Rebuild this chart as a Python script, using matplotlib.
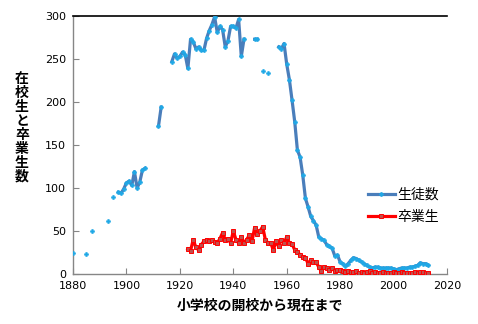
import numpy as np
import matplotlib
matplotlib.use("Agg")
import matplotlib.pyplot as plt

plt.rcParams['font.family'] = ['Noto Sans CJK JP', 'DejaVu Sans']

nan = np.nan
# 生徒数 (students) – NaN marks gaps in the record
student_years = [1880, 1881, 1885, 1886, 1887, 1888, 1893, 1894, 1895, 1896,
                 1897, 1898, 1899, 1900, 1901, 1902, 1903, 1904, 1905, 1906, 1907, 1908,
                 1912, 1913, 1914,
                 1917, 1918, 1919, 1920, 1921, 1922, 1923, 1924, 1925, 1926, 1927, 1928,
                 1929, 1930, 1931, 1932, 1933, 1934, 1935, 1936, 1937, 1938, 1939, 1940,
                 1941, 1942, 1943, 1944, 1945, 1946,
                 1948, 1949, 1950, 1951, 1952, 1953, 1954, 1955,
                 1957, 1958, 1959, 1960, 1961, 1962, 1963, 1964, 1965, 1966, 1967, 1968,
                 1969, 1970, 1971, 1972, 1973, 1974, 1975, 1976, 1977, 1978, 1979, 1980,
                 1981, 1982, 1983, 1984, 1985, 1986, 1987, 1988, 1989, 1990, 1991, 1992,
                 1993, 1994, 1995, 1996, 1997, 1998, 1999, 2000, 2001, 2002, 2003, 2004,
                 2005, 2006, 2007, 2008, 2009, 2010, 2011, 2012, 2013]
student_values = [24, nan, 23, nan, 50, nan, 62, nan, 89, nan,
                  95, 94, 99, 106, 108, 103, 119, 100, 107, 121, 123, nan,
                  172, 194, nan,
                  247, 256, 251, 253, 258, 255, 239, 273, 270, 262, 264, 260,
                  260, 274, 283, 290, 299, 281, 288, 284, 264, 271, 288, 288,
                  286, 296, 253, 273, nan, nan,
                  273, 273, nan, 236, nan, 234, nan, nan,
                  264, 262, 268, 244, 226, 202, 177, 144, 136, 115, 88, 78,
                  67, 62, 57, 43, 41, 39, 34, 32, 30, 21, 22, 14,
                  12, 9, 12, 16, 19, 18, 16, 14, 12, 10, 8, 7,
                  8, 8, 7, 7, 7, 7, 7, 6, 5, 6, 7, 7,
                  7, 8, 8, 9, 10, 13, 12, 12, 10]

# 卒業生 (graduates)
grad_years = list(range(1923, 2014))
grad_values = [29, 27, 40, 31, 28, 34, 38, 40, 38, 40, 37, 36, 41, 48, 40, 41,
               36, 50, 40, 36, 43, 36, 40, 45, 38, 54, 46, 50, 55, 40, 36, 36,
               28, 38, 32, 40, 36, 43, 36, 35, 28, 26, 22, 20, 19, 12, 16, 14,
               14, 8, 3, 8, 7, 5, 7, 3, 5, 5, 3, 2, 4, 2, 2, 3,
               1, 2, 1, 2, 3, 1, 2, 1, 1, 2, 1, 1, 1, 2, 1, 1,
               2, 1, 1, 1, 1, 2, 1, 2, 2, 1, 1]

series_labels = ['生徒数', '卒業生']
x_ticks = [1880, 1900, 1920, 1940, 1960, 1980, 2000, 2020]
y_ticks = [0, 50, 100, 150, 200, 250, 300]

fig = plt.figure(figsize=(4.78, 3.24), dpi=100)
ax = fig.add_axes([73/478, 1-274/324, (447-73)/478, (274-16)/324])

ax.plot(student_years, student_values, color='#4A7EBB', lw=2.3,
        marker='P', ms=3.0, mfc='#1FA8E6', mec='#1FA8E6', mew=0.4,
        label=series_labels[0], zorder=3)
ax.plot(grad_years, grad_values, color='#FF0000', lw=2.3,
        marker='s', ms=3.0, mfc='#C0504D', mec='#FF0000', mew=0.7,
        label=series_labels[1], zorder=3)

ax.set_xlim(1880, 2020)
ax.set_ylim(0, 300)
ax.set_xticks(x_ticks)
ax.set_yticks(y_ticks)
ax.tick_params(direction='in', length=4, width=0.8, color='#868686',
               labelsize=8, labelcolor='#000000', pad=5)
for lab in ax.get_xticklabels() + ax.get_yticklabels():
    lab.set_family('DejaVu Sans')

for s in ['left', 'bottom']:
    ax.spines[s].set_color('#868686')
    ax.spines[s].set_linewidth(1.0)
ax.spines['right'].set_visible(False)
ax.spines['top'].set_color('#000000')
ax.spines['top'].set_linewidth(1.2)

ax.set_xlabel('小学校の開校から現在まで', fontsize=10, fontweight='bold', labelpad=6)
fig.text(22/478, 1-128/324, '\n'.join('在校生と卒業生数'), fontsize=10,
         fontweight='bold', ha='center', va='center', linespacing=1.0)

leg = ax.legend(loc='center left', bbox_to_anchor=((362-73)/374, 1-(206-16)/258),
                frameon=False, fontsize=10, handlelength=2.0, handletextpad=0.15,
                labelspacing=0.6, borderaxespad=0)

fig.savefig('out.png', dpi=100)
